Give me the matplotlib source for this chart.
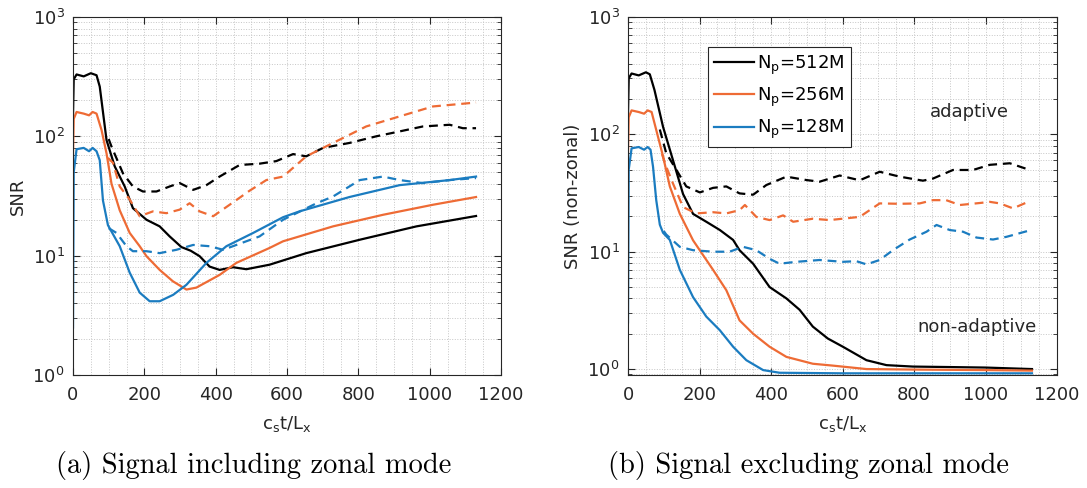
import numpy as np
import matplotlib.pyplot as plt
from matplotlib.ticker import MultipleLocator, LogLocator

# ---- (a) signal including zonal mode ----
x_512_a = [0, 2, 10, 30, 50, 66, 75, 94, 117, 145, 168, 206, 243, 271, 304, 330, 355, 383, 411, 449, 486, 551, 654, 804, 963, 1130]
y_512_a = [150, 300, 330, 318, 338, 325, 261, 93, 56, 38, 25, 20, 17.6, 14.5, 11.8, 11, 9.9, 8.1, 7.6, 8.0, 7.7, 8.4, 10.5, 13.6, 17.6, 21.5]
x_256_a = [0, 2, 10, 30, 45, 55, 66, 80, 94, 108, 131, 159, 187, 206, 243, 280, 318, 346, 411, 458, 551, 589, 729, 869, 1009, 1130]
y_256_a = [70, 140, 160, 155, 150, 160, 155, 113, 72, 40, 24, 15.5, 12, 9.9, 7.6, 6.1, 5.2, 5.4, 6.9, 8.7, 11.6, 13.2, 17.6, 22, 26.7, 31]
x_128_a = [0, 2, 10, 30, 45, 55, 66, 75, 84, 98, 131, 159, 187, 215, 243, 281, 318, 374, 430, 505, 589, 635, 775, 916, 1056, 1130]
y_128_a = [2.5, 50, 78, 80, 75, 80, 75, 63, 29, 18, 12, 7.2, 4.9, 4.15, 4.15, 4.7, 5.7, 8.7, 12, 15.5, 21, 23.5, 31, 39, 43, 46]

# adaptive (dashed)
xd_512_a = [100, 108, 140, 168, 196, 234, 271, 299, 337, 374, 411, 467, 523, 570, 617, 654, 701, 775, 850, 916, 981, 1056, 1093, 1130]
yd_512_a = [95, 82, 49, 38, 34.5, 34.5, 38, 40.6, 35.6, 39, 46, 57.5, 59, 62, 71, 68, 80, 88, 100, 110, 121, 125, 117, 117]
xd_256_a = [98, 112, 131, 159, 187, 224, 262, 299, 327, 355, 393, 449, 495, 542, 589, 654, 729, 822, 916, 1009, 1130]
yd_256_a = [66, 60, 38, 29.5, 21.4, 23.5, 22.7, 24.3, 27.5, 23.5, 21.4, 28, 35, 43, 46, 68, 88, 121, 147, 178, 192]
xd_128_a = [100, 122, 150, 168, 206, 243, 290, 337, 383, 421, 458, 523, 589, 683, 729, 804, 869, 916, 981, 1056, 1130]
yd_128_a = [17, 15.5, 12, 10.9, 10.9, 10.5, 11.2, 12.3, 12, 11.2, 12.3, 14.5, 20, 27.5, 31.3, 43, 46, 43, 40.5, 43, 44.7]

# ---- (b) signal excluding zonal mode ----
x_512_b = [0, 2, 10, 30, 50, 61, 74, 98, 126, 154, 182, 219, 257, 294, 312, 350, 396, 443, 480, 517, 559, 601, 667, 723, 797, 900, 1000, 1130]
y_512_b = [150, 300, 330, 318, 338, 325, 239, 116, 60, 31, 21, 18, 15.3, 12.6, 10.3, 7.9, 5.0, 4.0, 3.2, 2.3, 1.82, 1.55, 1.19, 1.08, 1.05, 1.04, 1.03, 1.0]
x_256_b = [0, 2, 10, 30, 45, 55, 66, 79, 98, 117, 145, 182, 238, 275, 312, 350, 396, 443, 517, 573, 667, 800, 1000, 1130]
y_256_b = [70, 140, 160, 155, 150, 160, 155, 109, 65, 36, 21, 12.5, 7.0, 4.7, 2.6, 2.0, 1.55, 1.27, 1.11, 1.07, 1.0, 0.99, 0.98, 0.97]
x_128_b = [0, 2, 10, 30, 45, 55, 63, 70, 79, 89, 98, 117, 145, 182, 219, 257, 294, 331, 378, 424, 600, 800, 1130]
y_128_b = [2.5, 50, 76, 78, 74, 78, 74, 53, 27.5, 17, 14.5, 12.6, 7.0, 4.1, 2.8, 2.14, 1.55, 1.19, 0.98, 0.93, 0.92, 0.92, 0.92]

xd_512_b = [89, 107, 135, 163, 201, 238, 275, 312, 350, 387, 443, 499, 536, 592, 648, 704, 760, 825, 853, 909, 965, 1012, 1068, 1124]
yd_512_b = [110, 69, 50, 36, 32, 35, 36, 31.4, 30.6, 37, 43.6, 40.8, 39.5, 44.6, 40.6, 48, 43.6, 40.3, 42, 49.7, 49.7, 55, 56.7, 49.7]
xd_256_b = [95, 107, 126, 154, 191, 238, 275, 312, 327, 359, 396, 434, 462, 517, 564, 648, 676, 704, 760, 816, 853, 890, 928, 984, 1012, 1040, 1077, 1124]
yd_256_b = [68, 53, 38, 24, 21.2, 21.7, 21.2, 22.6, 25, 19.8, 18.6, 20.4, 18, 19.1, 18.6, 19.8, 22.6, 25.8, 25.6, 25.8, 27.5, 27.5, 25, 26, 26.6, 25.8, 23.4, 27]
xd_128_b = [100, 107, 145, 182, 238, 284, 322, 359, 396, 424, 471, 536, 601, 639, 667, 704, 741, 788, 835, 863, 900, 937, 975, 1021, 1059, 1124]
yd_128_b = [15, 14, 11, 10.3, 10, 10, 11, 10.3, 8.7, 7.9, 8.2, 8.5, 8.2, 8.3, 7.8, 8.5, 10.3, 12.7, 14.8, 16.9, 15.3, 14.8, 13.2, 12.7, 13.4, 15.2]

labels = ['N$_\\mathregular{p}$=512M', 'N$_\\mathregular{p}$=256M', 'N$_\\mathregular{p}$=128M']
colors = ['#000000', '#EE6B35', '#1B7CC0']
txtc = '#262626'

fig = plt.figure(figsize=(10.87, 4.88), dpi=100)
axa = fig.add_axes([73/1087, 113/488, 428/1087, 358/488])
axb = fig.add_axes([628/1087, 113/488, 429/1087, 358/488])


def setup(ax, ylow):
    ax.set_yscale('log')
    ax.set_xlim(0, 1200)
    ax.set_ylim(ylow, 1000)
    ax.xaxis.set_major_locator(MultipleLocator(200))
    ax.xaxis.set_minor_locator(MultipleLocator(50))
    ax.yaxis.set_minor_locator(LogLocator(subs=np.arange(2, 10)))
    ax.grid(which='both', ls=':', color='#c6c6c6', lw=0.7)
    ax.set_axisbelow(True)
    ax.tick_params(which='both', direction='in', top=True, right=True,
                   labelsize=13, colors=txtc)
    ax.tick_params(which='major', length=5)
    ax.tick_params(which='minor', length=3)
    ax.tick_params(axis='x', which='minor', length=0)
    ax.tick_params(axis='x', which='major', pad=8)
    ax.tick_params(axis='y', which='major', pad=6)
    for s in ax.spines.values():
        s.set_color(txtc)
        s.set_linewidth(0.8)
    ax.set_xlabel('c$_\\mathregular{s}$t/L$_\\mathregular{x}$', fontsize=13, color=txtc, labelpad=7)


setup(axa, 1)
setup(axb, 0.89)

dash = (4, 2.6)
lw = 1.6
axa.plot(x_512_a, y_512_a, color=colors[0], lw=lw)
axa.plot(x_256_a, y_256_a, color=colors[1], lw=lw)
axa.plot(x_128_a, y_128_a, color=colors[2], lw=lw)
axa.plot(xd_512_a, yd_512_a, color=colors[0], lw=lw, dashes=dash)
axa.plot(xd_256_a, yd_256_a, color=colors[1], lw=lw, dashes=dash)
axa.plot(xd_128_a, yd_128_a, color=colors[2], lw=lw, dashes=dash)
axa.set_ylabel('SNR', fontsize=13, color=txtc)

axb.plot(x_512_b, y_512_b, color=colors[0], lw=lw, label=labels[0])
axb.plot(x_256_b, y_256_b, color=colors[1], lw=lw, label=labels[1])
axb.plot(x_128_b, y_128_b, color=colors[2], lw=lw, label=labels[2])
axb.plot(xd_512_b, yd_512_b, color=colors[0], lw=lw, dashes=dash)
axb.plot(xd_256_b, yd_256_b, color=colors[1], lw=lw, dashes=dash)
axb.plot(xd_128_b, yd_128_b, color=colors[2], lw=lw, dashes=dash)
axb.set_ylabel('SNR (non-zonal)', fontsize=13, color=txtc)

leg = axb.legend(loc='upper left', bbox_to_anchor=(0.186, 0.916), borderaxespad=0,
                 fontsize=13, fancybox=False, framealpha=1, edgecolor=txtc,
                 handlelength=2.2, handletextpad=0.2, labelspacing=0.5, borderpad=0.35)
leg.get_frame().set_linewidth(0.8)

axb.text(956, 155, 'adaptive', fontsize=13, color=txtc, ha='center', va='center')
axb.text(975, 2.3, 'non-adaptive', fontsize=13, color=txtc, ha='center', va='center')

fig.text(254/1087, 1 - 466/488, '(a) Signal including zonal mode', family='cmr10',
         fontsize=20.5, ha='center', va='center')
fig.text(809/1087, 1 - 466/488, '(b) Signal excluding zonal mode', family='cmr10',
         fontsize=20.5, ha='center', va='center')

fig.savefig('out.png', dpi=100)
